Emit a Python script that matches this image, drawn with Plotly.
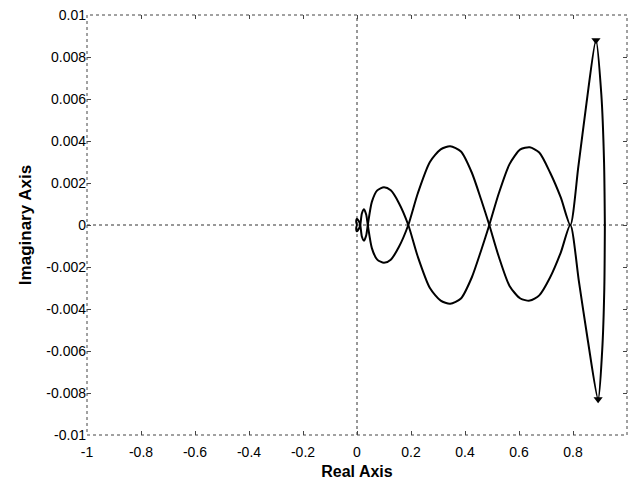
import plotly.graph_objects as go

# Locus branch (upper start)
branch_re = [0.000, -0.003, 0.000, 0.006, 0.012, 0.018, 0.026, 0.034, 0.040,
             0.055, 0.075, 0.100, 0.125, 0.155, 0.190,
             0.225, 0.270, 0.310, 0.345, 0.385, 0.425, 0.460, 0.490,
             0.525, 0.565, 0.605, 0.640, 0.675, 0.715, 0.755, 0.790,
             0.820, 0.850, 0.885, 0.905, 0.915, 0.918]
branch_im = [0.0000, 0.00015, 0.00030, 0.00020, 0.0000, -0.00055, -0.00075, -0.00050, 0.0000,
             0.00110, 0.00165, 0.00180, 0.00165, 0.00105, 0.0000,
             -0.00150, -0.00300, -0.00360, -0.00375, -0.00350, -0.00250, -0.00120, 0.0000,
             0.00150, 0.00290, 0.00360, 0.00370, 0.00345, 0.00250, 0.00130, 0.0000,
             0.00280, 0.00580, 0.00880, 0.00620, 0.00300, 0.0000]
# Conjugate branch
conj_re = [0.000, -0.003, 0.000, 0.006, 0.012, 0.018, 0.026, 0.034, 0.040,
           0.055, 0.075, 0.100, 0.125, 0.155, 0.190,
           0.225, 0.270, 0.310, 0.345, 0.385, 0.425, 0.460, 0.490,
           0.525, 0.565, 0.605, 0.640, 0.675, 0.715, 0.755, 0.790,
           0.822, 0.855, 0.893, 0.908, 0.916, 0.918]
conj_im = [-0.0000, -0.00015, -0.00030, -0.00020, 0.0000, 0.00055, 0.00075, 0.00050, 0.0000,
           -0.00110, -0.00165, -0.00180, -0.00165, -0.00105, 0.0000,
           0.00150, 0.00300, 0.00360, 0.00375, 0.00350, 0.00250, 0.00120, 0.0000,
           -0.00150, -0.00290, -0.00350, -0.00360, -0.00335, -0.00250, -0.00130, 0.0000,
           -0.00270, -0.00550, -0.00830, -0.00600, -0.00300, 0.0000]
end_re = [0.885, 0.893]
end_im = [0.0088, -0.0083]

x_ticks = [-1, -0.8, -0.6, -0.4, -0.2, 0, 0.2, 0.4, 0.6, 0.8, 1]
x_ticktext = ["-1", "-0.8", "-0.6", "-0.4", "-0.2", "0", "0.2", "0.4", "0.6", "0.8", "1"]
y_ticks = [0.01, 0.008, 0.006, 0.004, 0.002, 0, -0.002, -0.004, -0.006, -0.008, -0.01]
y_ticktext = ["0.01", "0.008", "0.006", "0.004", "0.002", "0", "-0.002", "-0.004",
              "-0.006", "-0.008", "-0.01"]

fig = go.Figure()
for xr, yi in ((branch_re, branch_im), (conj_re, conj_im)):
    fig.add_trace(go.Scatter(x=xr, y=yi, mode="lines",
                             line=dict(color="black", width=2, shape="spline", smoothing=0.7),
                             showlegend=False, hoverinfo="skip"))
fig.add_trace(go.Scatter(x=end_re, y=end_im, mode="markers",
                         marker=dict(symbol="triangle-down", size=8, color="black"),
                         showlegend=False))

# dotted zero lines and dotted frame
fig.add_shape(type="line", xref="x", yref="y", x0=-1, x1=1, y0=0, y1=0,
              line=dict(color="#333", width=1, dash="dot"), layer="below")
fig.add_shape(type="line", xref="x", yref="y", x0=0, x1=0, y0=-0.01, y1=0.01,
              line=dict(color="#333", width=1, dash="dot"), layer="below")
fig.add_shape(type="rect", xref="paper", yref="paper", x0=0, x1=1, y0=0, y1=1,
              line=dict(color="#444", width=1, dash="dot"))

font_ticks = dict(family="Liberation Sans, Arial", size=14, color="black")
fig.update_xaxes(range=[-1, 1], tickvals=x_ticks, ticktext=x_ticktext, ticks="inside",
                 ticklen=4, tickcolor="#444", mirror="ticks", showgrid=False, zeroline=False,
                 showline=False, tickfont=font_ticks, ticklabelstandoff=7,
                 title=dict(text="<b>Real Axis</b>", font=dict(family="Liberation Sans, Arial",
                                                              size=16, color="black"), standoff=6))
fig.update_yaxes(range=[-0.01, 0.01], tickvals=y_ticks, ticktext=y_ticktext, ticks="inside",
                 ticklen=4, tickcolor="#444", mirror="ticks", showgrid=False, zeroline=False,
                 showline=False, tickfont=font_ticks,
                 title=dict(text="<b>Imaginary Axis</b>", font=dict(family="Liberation Sans, Arial",
                                                                   size=17, color="black"), standoff=10))
fig.update_layout(width=630, height=483, margin=dict(l=87, r=3, t=15, b=48),
                  paper_bgcolor="white", plot_bgcolor="white")
fig.write_html("out.html")
